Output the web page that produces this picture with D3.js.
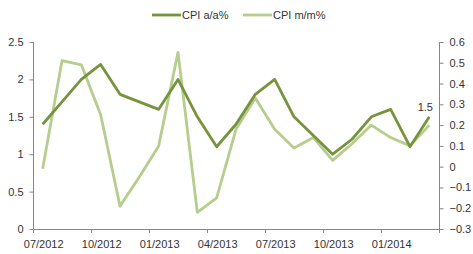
<!DOCTYPE html>
<html>
<head>
<meta charset="utf-8">
<script src="https://cdn.jsdelivr.net/npm/d3@7"></script>
<style>
  body { margin: 0; background: #fff; }
  text { font-family: "Liberation Sans", Arial, sans-serif; fill: #333; }
</style>
</head>
<body>
<div id="chart"></div>
<script>
// Monthly data, 07/2012 - 03/2014
const months = ["07/2012","08/2012","09/2012","10/2012","11/2012","12/2012","01/2013","02/2013","03/2013",
  "04/2013","05/2013","06/2013","07/2013","08/2013","09/2013","10/2013","11/2013","12/2013","01/2014","02/2014","03/2014"];
const cpiYoY = [1.4, 1.7, 2.0, 2.2, 1.8, 1.7, 1.6, 2.0, 1.5, 1.1, 1.4, 1.8, 2.0, 1.5, 1.25, 1.0, 1.2, 1.5, 1.6, 1.1, 1.5];
const cpiMoM = [-0.01, 0.51, 0.49, 0.25, -0.19, -0.05, 0.1, 0.55, -0.22, -0.15, 0.18, 0.33, 0.18, 0.09, 0.14, 0.03, 0.11, 0.2, 0.14, 0.1, 0.2];
const leftTicks = [0, 0.5, 1, 1.5, 2, 2.5];
const rightTicks = [-0.3, -0.2, -0.1, 0, 0.1, 0.2, 0.3, 0.4, 0.5, 0.6];

const width = 473, height = 254;
const margin = { top: 42, right: 34, bottom: 25, left: 33 };

const svg = d3.select("#chart")
  .append("svg")
  .attr("width", width)
  .attr("height", height);

const x = d3.scaleBand()
  .domain(months)
  .range([margin.left, width - margin.right]);

const yL = d3.scaleLinear()
  .domain([0, 2.5])
  .range([height - margin.bottom, margin.top]);

const yR = d3.scaleLinear()
  .domain([-0.3, 0.6])
  .range([height - margin.bottom, margin.top]);

const axisColor = "#868686";

// x axis: ticks at band boundaries every 3 months, labels at band centre
const xg = svg.append("g");
xg.append("line")
  .attr("x1", margin.left).attr("x2", width - margin.right)
  .attr("y1", yL(0) + 0.5).attr("y2", yL(0) + 0.5)
  .attr("stroke", axisColor);
const tickIdx = d3.range(0, months.length + 1, 3);
xg.selectAll(".xt")
  .data(tickIdx)
  .enter().append("line")
  .attr("x1", i => Math.round(margin.left + i * x.step()) + 0.5)
  .attr("x2", i => Math.round(margin.left + i * x.step()) + 0.5)
  .attr("y1", yL(0)).attr("y2", yL(0) + 4)
  .attr("stroke", axisColor);
xg.selectAll(".xl")
  .data(months.filter((d, i) => i % 3 === 0))
  .enter().append("text")
  .attr("x", d => x(d) + x.bandwidth() / 2 + 1)
  .attr("y", yL(0) + 19)
  .attr("text-anchor", "middle")
  .attr("font-size", "11px")
  .text(d => d);

// left axis
const yLg = svg.append("g")
  .attr("transform", `translate(${margin.left + 0.5},0)`)
  .call(d3.axisLeft(yL).tickValues(leftTicks).tickSize(4).tickPadding(6).tickFormat(d3.format("")));
yLg.select(".domain").attr("stroke", axisColor).attr("d", `M0,${yL(2.5)}V${yL(0)}`);
yLg.selectAll(".tick line").attr("stroke", axisColor);
yLg.selectAll(".tick text").attr("font-size", "11px").attr("font-family", null).attr("fill", "#333");

// right axis
const yRg = svg.append("g")
  .attr("transform", `translate(${width - margin.right + 0.5},0)`)
  .call(d3.axisRight(yR).tickValues(rightTicks).tickSize(4).tickPadding(6).tickFormat(d3.format("")));
yRg.select(".domain").attr("stroke", axisColor).attr("d", `M0,${yR(0.6)}V${yR(-0.3)}`);
yRg.selectAll(".tick line").attr("stroke", axisColor);
yRg.selectAll(".tick text").attr("font-size", "11px").attr("font-family", null).attr("fill", "#333");

// lines
const darkGreen = "#77933c", lightGreen = "#b5cd8e";
const cx = d => x(d) + x.bandwidth() / 2;

const lineL = d3.line().x((d, i) => cx(months[i])).y(d => yL(d));
const lineR = d3.line().x((d, i) => cx(months[i])).y(d => yR(d));

svg.append("path")
  .datum(cpiMoM)
  .attr("d", lineR)
  .attr("fill", "none")
  .attr("stroke", lightGreen)
  .attr("stroke-width", 2.8)
  .attr("stroke-linejoin", "round");

svg.append("path")
  .datum(cpiYoY)
  .attr("d", lineL)
  .attr("fill", "none")
  .attr("stroke", darkGreen)
  .attr("stroke-width", 2.8)
  .attr("stroke-linejoin", "round");

// last value label
const last = cpiYoY.length - 1;
svg.append("text")
  .attr("x", cx(months[last]) - 4)
  .attr("y", yL(cpiYoY[last]) - 6)
  .attr("text-anchor", "middle")
  .attr("font-size", "11px")
  .text(cpiYoY[last]);

// legend
const legendData = [
  { label: "CPI a/a%", color: darkGreen, x: 152 },
  { label: "CPI m/m%", color: lightGreen, x: 243 }
];
const legend = svg.append("g");
legend.selectAll("line")
  .data(legendData)
  .enter().append("line")
  .attr("x1", d => d.x).attr("x2", d => d.x + 29)
  .attr("y1", 15).attr("y2", 15)
  .attr("stroke", d => d.color)
  .attr("stroke-width", 2.8);
legend.selectAll("text")
  .data(legendData)
  .enter().append("text")
  .attr("x", d => d.x + 30)
  .attr("y", 19)
  .attr("font-size", "11px")
  .text(d => d.label);
</script>
</body>
</html>
